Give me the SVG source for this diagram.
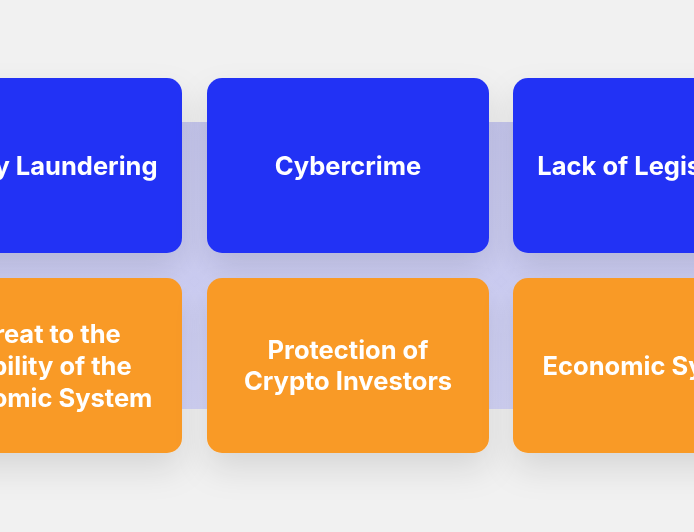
<svg xmlns="http://www.w3.org/2000/svg" width="694" height="532" viewBox="0 0 694 532">
<defs>
<linearGradient id="band" x1="0" y1="0" x2="0" y2="1">
<stop offset="0" stop-color="#c6c7ee"/>
<stop offset="1" stop-color="#d3d4f8"/>
</linearGradient>
<filter id="sh" x="-30%" y="-30%" width="160%" height="190%">
<feDropShadow dx="0" dy="16" stdDeviation="16" flood-color="#000" flood-opacity="0.11"/>
</filter>
</defs>
<style>
.blue{fill:#2433f5}
.orange{fill:#f99a27}
.t{font-family:Inter,"Liberation Sans",sans-serif;font-weight:700;font-size:25.5px;fill:#ffffff;text-anchor:middle}
</style>
<rect x="0" y="0" width="694" height="532" fill="#f1f1f1"/>
<rect x="0" y="122" width="694" height="287" fill="url(#band)"/>
<g id="n1" filter="url(#sh)"><rect class="blue" x="-100" y="78" width="282" height="175" rx="15"/><text class="t" x="41" y="175">Money Laundering</text></g>
<g id="n2" filter="url(#sh)"><rect class="blue" x="207" y="78" width="282" height="175" rx="15"/><text class="t" x="348" y="175">Cybercrime</text></g>
<g id="n3" filter="url(#sh)"><rect class="blue" x="513" y="78" width="282" height="175" rx="15"/><text class="t" x="654" y="175">Lack of Legislation</text></g>
<g id="n4" filter="url(#sh)"><rect class="orange" x="-100" y="278" width="282" height="175" rx="15"/><text class="t" x="41" y="343">Threat to the</text><text class="t" x="41" y="375">Stability of the</text><text class="t" x="41" y="407">Economic System</text></g>
<g id="n5" filter="url(#sh)"><rect class="orange" x="207" y="278" width="282" height="175" rx="15"/><text class="t" x="348" y="359">Protection of</text><text class="t" x="348" y="390">Crypto Investors</text></g>
<g id="n6" filter="url(#sh)"><rect class="orange" x="513" y="278" width="282" height="175" rx="15"/><text class="t" x="654" y="375">Economic System</text></g>
<g id="connectors"></g>
</svg>
